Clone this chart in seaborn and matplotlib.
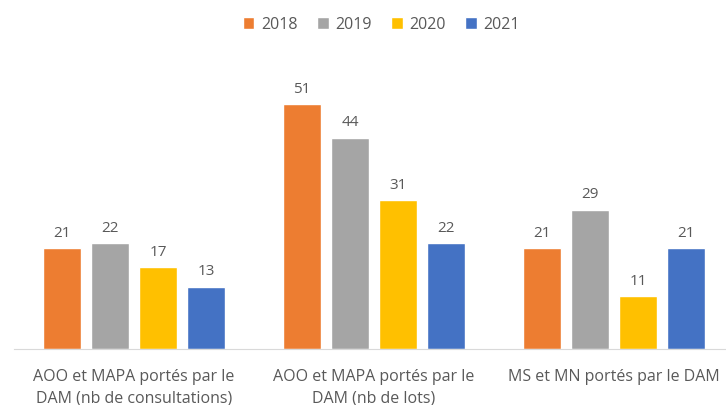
import seaborn as sns
import matplotlib.pyplot as plt
import pandas as pd

categories = ["AOO et MAPA portés par le\nDAM (nb de consultations)",
              "AOO et MAPA portés par le\nDAM (nb de lots)",
              "MS et MN portés par le DAM"]
years = ["2018", "2019", "2020", "2021"]
values = {
    "2018": [21, 51, 21],
    "2019": [22, 44, 29],
    "2020": [17, 31, 11],
    "2021": [13, 22, 21],
}
colors = ["#ED7D31", "#A5A5A5", "#FFC000", "#4472C4"]

rows = []
for y in years:
    for c, v in zip(categories, values[y]):
        rows.append({"cat": c, "year": y, "value": v})
data = pd.DataFrame(rows)

sns.set_style("white")
plt.rcParams['font.family'] = ['Open Sans', 'DejaVu Sans']
text_color = "#595959"

fig = plt.figure(figsize=(7.26, 4.06), dpi=100)
ax = fig.add_axes([14 / 726, 56 / 406, 720 / 726, 288 / 406])

sns.barplot(data=data, x='cat', y='value', hue='year', palette=colors,
            saturation=1, width=0.8, gap=0.2, ax=ax, legend=True)

for cont in ax.containers:
    ax.bar_label(cont, padding=6, fontsize=11, color=text_color)

ax.set_xlim(-0.5, 2.5)
ax.set_ylim(0, 60)
ax.set_xlabel("")
ax.set_ylabel("")
ax.set_yticks([])
ax.tick_params(axis='x', length=0, pad=14, labelsize=11.5, labelcolor=text_color)
for lbl in ax.get_xticklabels():
    lbl.set_linespacing(1.4)
for s in ["top", "right", "left"]:
    ax.spines[s].set_visible(False)
ax.spines["bottom"].set_color("#D9D9D9")

handles, labels = ax.get_legend_handles_labels()
ax.legend(handles, labels, loc='upper center', bbox_to_anchor=(367 / 720, 1.205),
          ncol=4, frameon=False, fontsize=11.5, labelcolor=text_color,
          handlelength=0.75, handleheight=0.75, handletextpad=0.4, columnspacing=1.2)

fig.savefig("out.png", dpi=100)
